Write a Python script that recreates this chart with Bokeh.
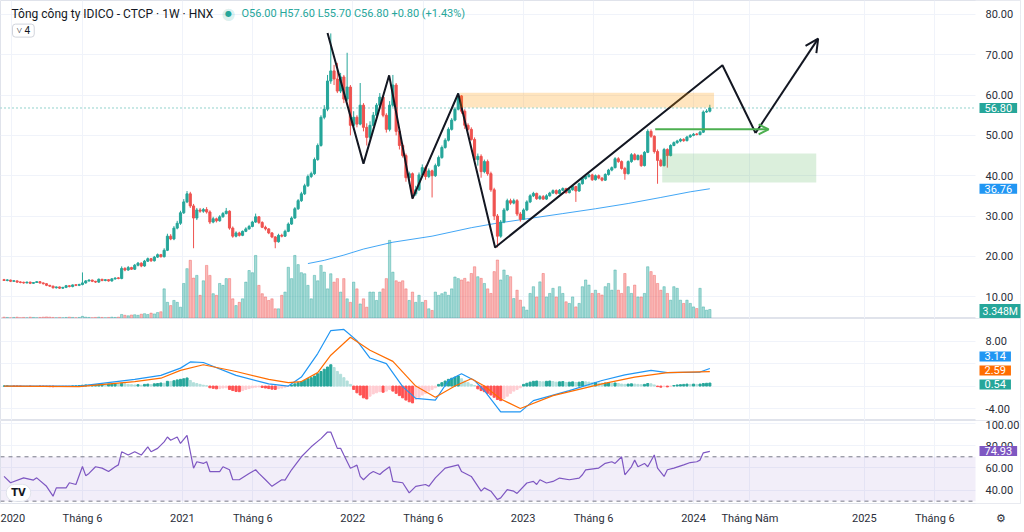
import numpy as np
import pandas as pd
from bokeh.plotting import figure
from bokeh.layouts import column
from bokeh.models import (Range1d, FixedTicker, PrintfTickFormatter, Label,
                          BoxAnnotation, Arrow, OpenHead, Grid)
from bokeh.embed import file_html
from bokeh.resources import INLINE

# ---------------- data (weekly, IDICO - HNX) ----------------
last_week = "2024-02-05"
opens = [
14.2, 14.0, 14.1, 13.8, 13.9, 13.6, 13.5, 13.4, 13.6, 13.3,
13.5, 13.7, 13.4, 13.2, 12.8, 12.6, 12.2, 12.4, 12.1, 12.3,
12.7, 12.5, 12.9, 12.8, 13.0, 13.4, 13.9, 14.1, 13.8, 13.6,
14.3, 14.0, 14.2, 13.9, 14.4, 14.6, 14.5, 17.0, 16.6, 17.2,
16.8, 17.8, 18.3, 17.6, 18.8, 19.4, 18.9, 19.8, 20.4, 19.9,
21.5, 25.0, 24.3, 27.0, 28.2, 30.8, 33.5, 35.5, 32.5, 29.5,
31.5, 31.2, 31.6, 31.0, 28.5, 29.3, 28.8, 29.8, 30.6, 31.2,
27.0, 25.0, 25.8, 25.2, 26.2, 26.8, 27.4, 28.5, 29.8, 28.4,
27.2, 26.8, 25.8, 24.8, 23.6, 25.2, 25.0, 26.2, 28.0, 29.5,
31.8, 33.8, 35.5, 37.5, 39.8, 40.5, 44.0, 47.5, 54.5, 56.5,
63.5, 66.0, 64.0, 61.0, 64.5, 59.0, 62.0, 52.5, 54.5, 52.8,
57.5, 52.0, 49.5, 52.5, 55.0, 57.5, 59.5, 55.0, 51.5, 57.5,
62.5, 51.0, 47.5, 45.0, 39.5, 40.5, 35.5, 36.5, 40.2, 42.0,
39.8, 41.2, 40.0, 42.5, 44.5, 47.0, 48.8, 51.5, 53.8, 56.5,
59.8, 56.0, 52.5, 51.5, 49.0, 44.0, 44.8, 41.0, 43.5, 40.5,
36.5, 30.0, 25.0, 28.5, 31.5, 33.8, 33.2, 33.8, 30.5, 29.2,
31.5, 33.5, 35.0, 35.6, 34.3, 34.8, 34.2, 35.0, 35.7, 36.3,
35.6, 36.4, 36.8, 35.8, 36.5, 37.3, 36.2, 38.0, 39.3, 39.8,
40.2, 39.0, 40.0, 39.4, 38.9, 40.3, 41.4, 42.0, 44.2, 43.5,
41.8, 40.5, 43.5, 45.2, 44.0, 45.0, 42.5, 45.8, 51.0, 49.8,
46.0, 43.8, 42.5, 46.5, 45.0, 47.5, 48.2, 48.6, 49.0, 48.7,
49.6, 50.0, 50.3, 50.2, 50.8, 55.8, 56.0]
highs = [
14.4, 14.3, 14.2, 14.0, 14.0, 13.8, 13.7, 13.7, 13.7, 13.6,
13.8, 13.8, 13.5, 13.3, 12.9, 12.7, 12.5, 12.5, 12.4, 12.9,
12.8, 13.0, 13.0, 13.2, 16.0, 14.1, 14.3, 14.2, 13.9, 14.5,
14.4, 14.3, 14.3, 14.6, 14.8, 14.8, 17.5, 17.3, 17.6, 17.4,
18.1, 18.6, 18.5, 19.1, 19.7, 19.6, 20.1, 20.7, 20.6, 22.0,
25.6, 25.5, 27.5, 28.8, 31.3, 34.2, 36.2, 36.0, 33.0, 32.0,
32.0, 32.0, 32.2, 31.4, 29.8, 29.6, 30.2, 31.0, 32.0, 31.4,
27.4, 26.2, 26.1, 26.4, 27.2, 27.8, 28.8, 30.6, 30.0, 28.7,
27.6, 27.0, 26.0, 25.0, 25.6, 25.6, 26.6, 28.4, 29.9, 32.2,
34.2, 36.0, 38.0, 40.3, 41.0, 44.5, 48.0, 55.0, 57.5, 65.0,
75.3, 67.5, 68.0, 65.5, 65.0, 70.5, 62.5, 56.0, 55.0, 63.0,
58.0, 53.0, 53.5, 55.8, 58.0, 60.5, 60.0, 55.5, 58.5, 65.0,
63.0, 51.5, 48.0, 45.5, 41.0, 40.8, 37.5, 40.8, 42.8, 42.5,
41.8, 41.5, 43.0, 45.0, 47.5, 49.3, 52.0, 54.3, 57.0, 60.5,
60.0, 56.5, 53.0, 52.0, 49.5, 45.5, 45.3, 44.0, 44.0, 41.0,
37.0, 30.5, 29.0, 32.0, 34.3, 34.3, 34.3, 34.2, 31.0, 31.9,
33.9, 35.4, 36.0, 35.8, 35.2, 35.2, 35.4, 36.0, 36.6, 36.6,
36.7, 37.1, 37.0, 36.8, 37.6, 37.5, 38.3, 39.6, 40.1, 40.5,
40.5, 40.3, 40.3, 39.7, 40.6, 41.7, 42.3, 44.6, 44.6, 43.8,
42.2, 43.8, 45.6, 45.6, 45.3, 45.3, 46.1, 51.5, 51.5, 50.0,
46.5, 44.2, 46.9, 46.8, 47.8, 48.5, 48.9, 49.3, 49.3, 49.9,
50.3, 50.6, 50.6, 51.1, 56.2, 56.5, 57.6]
lows = [
13.9, 13.8, 13.6, 13.7, 13.4, 13.3, 13.2, 13.3, 13.1, 13.2,
13.4, 13.2, 13.0, 12.6, 12.4, 12.0, 12.0, 11.9, 11.9, 12.1,
12.3, 12.3, 12.6, 12.6, 12.8, 13.2, 13.7, 13.6, 13.4, 13.4,
13.8, 13.8, 13.7, 13.7, 14.2, 14.3, 14.3, 16.3, 16.4, 16.6,
16.6, 17.5, 17.3, 17.4, 18.6, 18.6, 18.7, 19.6, 19.7, 19.7,
21.3, 24.0, 24.0, 26.7, 27.8, 30.5, 33.2, 32.0, 22.0, 29.0,
30.8, 30.8, 30.6, 28.0, 28.2, 28.4, 28.6, 29.6, 30.4, 26.6,
24.6, 24.7, 24.9, 25.0, 26.0, 26.6, 27.2, 28.3, 28.0, 27.0,
26.4, 25.5, 24.5, 22.0, 23.4, 24.7, 24.8, 26.0, 27.8, 29.3,
31.5, 33.5, 35.2, 37.2, 39.4, 40.2, 43.7, 47.2, 54.0, 56.0,
62.8, 62.5, 60.5, 60.5, 58.0, 58.5, 50.0, 52.0, 52.0, 52.5,
51.0, 47.5, 49.0, 52.2, 54.7, 57.0, 54.5, 50.7, 51.0, 57.0,
50.0, 46.5, 44.5, 38.5, 38.0, 34.2, 35.0, 36.2, 39.8, 39.0,
39.4, 34.6, 39.7, 42.2, 44.2, 46.7, 48.5, 51.2, 53.5, 56.2,
55.4, 51.6, 51.2, 48.7, 43.0, 42.5, 39.5, 40.6, 40.0, 36.0,
29.0, 22.2, 24.6, 28.2, 31.2, 32.8, 32.9, 30.0, 28.6, 29.0,
31.2, 33.2, 34.7, 34.0, 34.0, 34.0, 34.0, 34.8, 35.5, 35.3,
35.4, 36.2, 35.5, 35.6, 36.3, 33.5, 36.0, 37.8, 39.0, 39.5,
38.7, 38.8, 39.1, 38.6, 38.7, 40.0, 41.1, 41.8, 43.2, 41.5,
39.0, 40.3, 43.2, 43.8, 43.8, 42.2, 42.3, 45.6, 49.4, 45.5,
38.0, 42.2, 42.3, 42.0, 44.8, 47.3, 47.9, 48.3, 48.4, 48.5,
49.4, 49.8, 50.0, 50.0, 50.6, 55.6, 55.7]
closes = [
14.0, 14.1, 13.8, 13.9, 13.6, 13.5, 13.4, 13.6, 13.3, 13.5,
13.7, 13.4, 13.2, 12.8, 12.6, 12.2, 12.4, 12.1, 12.3, 12.7,
12.5, 12.9, 12.8, 13.0, 13.4, 13.9, 14.1, 13.8, 13.6, 14.3,
14.0, 14.2, 13.9, 14.4, 14.6, 14.5, 17.0, 16.6, 17.2, 16.8,
17.8, 18.3, 17.6, 18.8, 19.4, 18.9, 19.8, 20.4, 19.9, 21.5,
25.0, 24.3, 27.0, 28.2, 30.8, 33.5, 35.5, 32.5, 29.5, 31.5,
31.2, 31.6, 31.0, 28.5, 29.3, 28.8, 29.8, 30.6, 31.2, 27.0,
25.0, 25.8, 25.2, 26.2, 26.8, 27.4, 28.5, 29.8, 28.4, 27.2,
26.8, 25.8, 24.8, 23.6, 25.2, 25.0, 26.2, 28.0, 29.5, 31.8,
33.8, 35.5, 37.5, 39.8, 40.5, 44.0, 47.5, 54.5, 56.5, 63.5,
66.0, 64.0, 61.0, 64.5, 59.0, 62.0, 52.5, 54.5, 52.8, 57.5,
52.0, 49.5, 52.5, 55.0, 57.5, 59.5, 55.0, 51.5, 57.5, 62.5,
51.0, 47.5, 45.0, 39.5, 40.5, 35.5, 36.5, 40.2, 42.0, 39.8,
41.2, 40.0, 42.5, 44.5, 47.0, 48.8, 51.5, 53.8, 56.5, 59.8,
56.0, 52.5, 51.5, 49.0, 44.0, 44.8, 41.0, 43.5, 40.5, 36.5,
30.0, 25.0, 28.5, 31.5, 33.8, 33.2, 33.8, 30.5, 29.2, 31.5,
33.5, 35.0, 35.6, 34.3, 34.8, 34.2, 35.0, 35.7, 36.3, 35.6,
36.4, 36.8, 35.8, 36.5, 37.3, 36.2, 38.0, 39.3, 39.8, 40.2,
39.0, 40.0, 39.4, 38.9, 40.3, 41.4, 42.0, 44.2, 43.5, 41.8,
40.5, 43.5, 45.2, 44.0, 45.0, 42.5, 45.8, 51.0, 49.8, 46.0,
43.8, 42.5, 46.5, 45.0, 47.5, 48.2, 48.6, 49.0, 48.7, 49.6,
50.0, 50.3, 50.2, 50.8, 55.8, 56.0, 56.8]
volumes_m = [
0.5, 0.4, 0.3, 0.4, 0.5, 0.3, 0.4, 0.3, 0.5, 0.4,
0.3, 0.4, 0.5, 0.6, 0.5, 0.4, 0.3, 0.4, 0.3, 0.4,
0.5, 0.4, 0.3, 0.4, 0.8, 0.5, 0.4, 0.3, 0.4, 0.5,
0.4, 0.3, 0.4, 0.5, 0.4, 0.5, 1.5, 1.2, 1.0, 1.3,
1.4, 1.2, 1.6, 1.8, 1.5, 2.0, 1.7, 2.2, 2.5, 11.0,
6.0, 4.8, 6.7, 6.0, 4.2, 13.0, 18.5, 21.6, 15.0, 16.0,
8.6, 14.0, 19.7, 16.0, 9.2, 8.6, 13.0, 12.3, 14.8, 14.8,
7.3, 4.8, 6.0, 7.3, 13.5, 17.8, 17.0, 23.4, 12.3, 9.2,
8.0, 6.7, 7.3, 3.6, 3.6, 8.6, 9.8, 19.0, 14.8, 23.4,
20.0, 17.0, 16.6, 12.3, 7.3, 16.0, 14.0, 19.7, 17.2, 11.0,
16.6, 13.5, 14.8, 9.8, 14.8, 7.3, 6.0, 13.5, 11.0, 5.4,
7.3, 4.2, 9.8, 9.8, 6.7, 9.8, 11.0, 14.8, 29.0, 17.2,
14.0, 13.5, 14.0, 11.0, 6.7, 9.8, 6.0, 8.6, 6.0, 6.7,
3.6, 3.0, 9.8, 8.6, 9.2, 9.8, 8.6, 11.0, 15.4, 14.8,
14.3, 14.9, 13.6, 16.7, 19.2, 15.5, 14.9, 13.0, 11.0, 9.3,
17.4, 21.7, 14.3, 18.0, 16.0, 15.5, 7.4, 10.5, 6.8, 4.3,
3.1, 9.3, 11.8, 8.0, 13.6, 16.7, 8.0, 9.3, 11.2, 8.0,
11.8, 9.3, 6.2, 5.6, 8.0, 4.3, 5.6, 11.8, 14.3, 12.4,
9.3, 10.5, 9.3, 8.7, 11.8, 13.0, 10.5, 18.0, 10.5, 9.3,
16.7, 11.8, 9.3, 12.4, 8.0, 8.0, 9.3, 19.2, 17.4, 16.0,
13.0, 10.5, 11.8, 9.3, 6.8, 11.8, 11.2, 6.8, 5.6, 6.8,
5.6, 4.3, 3.7, 11.2, 4.3, 3.1, 3.348]
macd_hist = [
0.0, 0.02, 0.0, -0.02, -0.03, -0.05, -0.05, -0.04, -0.05, -0.03,
-0.02, -0.04, -0.06, -0.08, -0.1, -0.12, -0.1, -0.08, -0.06, -0.04,
-0.02, 0.0, 0.02,
0.1, 0.15, 0.2, 0.18, 0.22, 0.25, 0.3, 0.32, 0.3, 0.35, 0.38, 0.4, 0.35, 0.5, 0.42, 0.3,
0.25, 0.2, 0.25, 0.15, 0.3, 0.35, 0.25, 0.4, 0.45,
0.55, 0.5, 0.85, 0.8, 0.95, 1.1, 1.2, 1.3, 1.45, 1.0,
0.6, 0.45, 0.3, 0.15, 0.05,
-0.3, -0.4, -0.5, -0.45, -0.35, -0.3, -0.6, -0.8, -0.95, -1.0,
-0.8, -0.6, -0.45, -0.3, -0.2, -0.15,
-0.25, -0.35, -0.45, -0.55, -0.6,
-0.45, -0.35, -0.2, -0.05,
0.2, 0.4, 0.6, 0.8, 1.0, 1.3, 1.5, 1.8, 2.2, 2.6, 3.0, 3.4, 3.8,
3.3, 2.6, 2.1, 1.5, 0.9, 0.3,
-0.6, -1.2, -1.6, -2.1, -2.3,
-1.8, -1.4, -1.2, -1.0, -1.1, -0.9, -0.6,
-0.9, -1.3, -1.7, -2.1, -2.5, -2.8, -3.0,
-2.4, -2.0, -1.6, -1.3, -0.9, -0.6, -0.3,
0.3, 0.6, 0.9, 1.2, 1.4, 1.6, 1.8,
1.3, 0.9, 0.6, 0.3, 0.1,
-0.5, -0.8, -1.0, -1.3, -1.6, -2.0, -2.4, -2.6,
-2.2, -1.8, -1.3, -0.9, -0.6, -0.3,
0.3, 0.5, 0.7, 0.85, 0.9, 0.8, 0.75, 0.85, 0.9, 0.8, 0.7, 0.75, 0.8, 0.65,
0.7, 0.75, 0.65, 0.7, 0.8, 0.75, 0.7, 0.6, 0.65, 0.55, 0.5,
0.55, 0.6, 0.5, 0.55, 0.45, 0.35, 0.3, 0.35, 0.4, 0.35, 0.3, 0.25, 0.3, 0.45, 0.4, 0.2,
-0.1, -0.2, -0.1, -0.15, -0.05, 0.1,
0.2, 0.25, 0.3, 0.35, 0.3, 0.35, 0.3, 0.35, 0.45, 0.5, 0.54]

# MA line (week index -> value)
ma_idx = [93, 98, 104, 110, 119, 131, 143, 150, 160, 171, 181, 191, 201, 210, 216]
ma_vals = [18.2, 19.0, 20.3, 21.8, 23.5, 25.0, 27.1, 28.1, 29.3, 30.6, 31.8, 33.1, 34.6, 36.0, 36.76]

# MACD line and signal (week index -> value)
macd_idx = [0, 23, 40, 48, 54, 57, 61, 71, 81, 87, 91, 96, 100, 104, 108, 112, 117, 122, 126, 132,
            136, 140, 144, 147, 152, 158, 162, 173, 183, 190, 198, 203, 213, 216]
macd_vals = [0.0, 0.0, 1.2, 1.9, 3.2, 4.3, 4.2, 1.9, 0.4, 0.0, 1.6, 5.8, 9.9, 10.1, 8.1, 5.0, 4.0, -0.1, -2.2, -2.5,
             1.0, 2.2, 1.0, -0.8, -4.6, -4.6, -2.6, -0.8, 1.0, 2.0, 2.8, 2.4, 2.5, 3.14]
sig_idx = [0, 23, 40, 48, 54, 61, 71, 81, 87, 91, 96, 100, 106, 112, 119, 126, 132, 138, 143, 147,
           152, 158, 168, 183, 193, 203, 216]
sig_vals = [0.0, -0.1, 0.8, 1.4, 2.8, 3.8, 2.6, 1.2, 0.6, 0.8, 2.4, 5.5, 8.7, 6.4, 4.4, 0.0, -2.0, 0.0, 1.3, 0.0,
            -2.3, -4.0, -1.7, 0.4, 1.6, 2.4, 2.59]

# RSI (week index -> value)
rsi_idx = [0, 2, 6, 9, 10, 13, 15, 16, 19, 20, 22, 24, 25, 26, 28, 30, 32, 34, 35, 36,
           38, 40, 42, 44, 45, 47, 49, 50, 51, 53, 54, 56, 58, 59, 61, 62, 63, 66, 67, 69,
           70, 72, 75, 77, 78, 80, 82, 85, 86, 88, 91, 94, 97, 99, 100, 102, 103, 104, 106, 107,
           108, 109, 110, 112, 113, 115, 116, 118, 119, 122, 124, 126, 129, 130, 132, 135, 139, 140, 143, 146,
           147, 149, 151, 152, 154, 156, 157, 160, 162, 163, 164, 166, 168, 170, 173, 176, 177, 178, 182, 184,
           186, 187, 189, 190, 192, 193, 194, 196, 197, 199, 200, 202, 203, 205, 208, 210, 212, 213, 214, 216]
rsi_vals = [52.3, 46.6, 51, 49, 51, 43.4, 34.5, 42, 42, 46.6, 45, 61.2, 53, 55, 61, 59.8, 56.7, 61, 62.7, 74.5,
            71.6, 74.5, 71.6, 79, 74.5, 77.6, 83.4, 87.8, 84.9, 87.8, 82, 89.3, 59.7, 65.5, 64, 65.5, 56.7, 56.7, 61, 58.3,
            49.3, 49.3, 55, 58.3, 55, 49.3, 43.4, 49.3, 49, 58.3, 70, 79, 86.4, 92.3, 92.3, 77.6, 77.6, 71.6, 59.7, 61,
            62.5, 52.3, 49.3, 55, 56.7, 54, 56.7, 61, 47.8, 46.6, 37.5, 43.4, 45, 43.4, 51, 59.8, 62.7, 56.7, 52.3, 39,
            42, 39, 31.5, 33, 40.4, 39, 37, 46.4, 47.8, 45, 49.3, 46.4, 47.8, 50.8, 49.3, 50.8, 53.8, 58.2, 59.8, 64.1,
            65.5, 64, 70, 53.8, 61, 67, 61, 64, 61, 71.6, 59.8, 52.3, 58.3, 59.8, 62.7, 64.8, 65.5, 67, 73.6, 74.93]

# drawings on the chart
zz_dates = ["2021-11-08", "2022-01-24", "2022-03-20", "2022-05-09", "2022-08-15",
            "2022-11-02", "2024-03-03", "2024-05-13", "2024-09-24"]
zz_prices = [75.4, 43.0, 64.9, 34.3, 60.4, 22.2, 67.4, 50.6, 74.0]
supply_zone = (("2022-08-19", "2024-02-14"), (56.9, 60.6))
demand_zone = (("2023-10-26", "2024-09-20"), (38.3, 45.5))
support_line = (("2023-10-11", "2024-06-10"), 51.5)

tick_dates = ["2020-01-01", "2020-06-01", "2021-01-01", "2021-06-01", "2022-01-01", "2022-06-01",
              "2023-01-01", "2023-06-01", "2024-01-01", "2024-05-01", "2025-01-01", "2025-06-01"]
tick_labels = ["2020", "Tháng 6", "2021", "Tháng 6", "2022", "Tháng 6",
               "2023", "Tháng 6", "2024", "Tháng Năm", "2025", "Tháng 6"]

# ---------------- helpers ----------------
BASE = pd.Timestamp("2020-01-01")
def d(s):
    return float((pd.Timestamp(s) - BASE).days)

dates = pd.date_range(end=last_week, periods=len(closes), freq="7D")
xs = np.array([(t - BASE).days for t in dates], dtype=float)

FONT = "Roboto"
UP, DN = "#26a69a", "#ef5350"
GRID = "#f0f3fa"
FW = 1020                      # frame incl. the price-scale column
PX = 365.25 / 170.5            # days per pixel
X0 = -11 * PX
XD = X0 + 975 * PX             # right edge of the data area
X1 = X0 + FW * PX
xr = Range1d(X0, X1)
xt = [d(s) for s in tick_dates]

def make_fig(fh, yr, yticks, ygrid_ticks, xaxis=False, bottom=0):
    p = figure(frame_width=FW, frame_height=fh, x_range=xr, y_range=Range1d(*yr),
               x_axis_location="below" if xaxis else None, y_axis_location="right",
               output_backend="svg", toolbar_location=None,
               min_border_left=0, min_border_top=0, min_border_bottom=bottom, min_border_right=4)
    p.outline_line_color = "#e0e3eb"
    p.background_fill_color = "white"
    p.border_fill_color = "white"
    for g in p.xgrid:
        g.visible = False
    p.add_layout(Grid(dimension=0, ticker=FixedTicker(ticks=xt), grid_line_color=GRID))
    p.ygrid.ticker = FixedTicker(ticks=ygrid_ticks)
    p.ygrid.grid_line_color = GRID
    # blank price-scale column (covers the grid there)
    p.add_layout(BoxAnnotation(left=XD, fill_color="white", fill_alpha=1.0,
                               line_color=None, level="underlay"))
    ax = p.yaxis[0]
    ax.ticker = FixedTicker(ticks=yticks)
    ax.formatter = PrintfTickFormatter(format="%.2f")
    ax.axis_line_color = None
    ax.major_tick_line_color = None
    ax.minor_tick_line_color = None
    ax.major_tick_out = 0
    ax.major_tick_in = 0
    ax.major_label_text_font = FONT
    ax.major_label_text_font_size = "11px"
    ax.major_label_text_color = "#2a2e39"
    ax.major_label_standoff = -35
    return p

def tag(p, y, text, color, pad=(5, 1), size="11px"):
    p.add_layout(Label(x=XD + 4 * PX, y=y, text=text, text_color="white",
                       background_fill_color=color, text_font=FONT, text_font_size=size,
                       text_align="left", text_baseline="middle", padding=pad))

# ---------------- main pane ----------------
p1 = make_fig(318, (4.57, 83.47), [10, 20, 30, 40, 50, 60, 70, 80], [10, 20, 30, 40, 50, 60, 70, 80])
p1.extra_y_ranges = {"vol": Range1d(0, 118)}

o = np.array(opens); h = np.array(highs); l = np.array(lows); c = np.array(closes)
up = c >= o
col = np.where(up, UP, DN)
p1.vbar(x=xs, top=volumes_m, bottom=0, width=5.0, color=col, alpha=0.4, y_range_name="vol")

p1.add_layout(BoxAnnotation(left=d(supply_zone[0][0]), right=d(supply_zone[0][1]),
                            bottom=supply_zone[1][0], top=supply_zone[1][1],
                            fill_color="#ff9800", fill_alpha=0.25, line_color=None))
p1.add_layout(BoxAnnotation(left=d(demand_zone[0][0]), right=d(demand_zone[0][1]),
                            bottom=demand_zone[1][0], top=demand_zone[1][1],
                            fill_color="#4caf50", fill_alpha=0.2, line_color=None))

p1.line([xs[i] for i in ma_idx], ma_vals, line_color="#2196f3", line_width=1, alpha=0.85)

p1.segment(x0=xs, y0=l, x1=xs, y1=h, color=col, line_width=1)
body_top = np.maximum(o, c)
body_bot = np.minimum(o, c)
body_top = np.where(body_top - body_bot < 0.15, body_bot + 0.15, body_top)
p1.vbar(x=xs, top=body_top, bottom=body_bot, width=4.5, fill_color=col, line_color=col)

p1.segment(x0=[X0], y0=[closes[-1]], x1=[XD], y1=[closes[-1]], line_color=UP,
           line_dash="1 3", line_width=1)

zx = [d(s) for s in zz_dates]
p1.line(zx[:-1], zz_prices[:-1], line_color="#131722", line_width=2)
p1.add_layout(Arrow(end=OpenHead(size=13, line_width=2, line_color="#131722"),
                    x_start=zx[-2], y_start=zz_prices[-2], x_end=zx[-1], y_end=zz_prices[-1],
                    line_color="#131722", line_width=2))
p1.add_layout(Arrow(end=OpenHead(size=10, line_width=2, line_color="#4caf50"),
                    x_start=d(support_line[0][0]), y_start=support_line[1],
                    x_end=d(support_line[0][1]), y_end=support_line[1],
                    line_color="#4caf50", line_width=2))

# header
p1.add_layout(Label(x=X0 + 11 * PX, y=80.24, text="Tông công ty IDICO - CTCP · 1W · HNX",
                    text_font=FONT, text_font_size="12px", text_color="#131722",
                    text_baseline="middle"))
p1.add_layout(Label(x=X0 + 228 * PX, y=80.24, text="●", text_font="DejaVu Sans",
                    text_font_size="16px", text_color=UP, text_alpha=0.18,
                    text_align="center", text_baseline="middle"))
p1.add_layout(Label(x=X0 + 228 * PX, y=80.24, text="●", text_font="DejaVu Sans",
                    text_font_size="8px", text_color=UP,
                    text_align="center", text_baseline="middle"))
p1.add_layout(Label(x=X0 + 241 * PX, y=80.24, text="O56.00 H57.60 L55.70 C56.80 +0.80 (+1.43%)",
                    text_font=FONT, text_font_size="11px", text_color=UP,
                    text_baseline="middle"))
p1.add_layout(Label(x=X0 + 12 * PX, y=76.0, text="˅ 4", text_font=FONT,
                    text_font_size="10px", text_color="#131722", text_baseline="middle",
                    border_line_color="#d1d4dc", border_radius=3, padding=(4, 1),
                    background_fill_color="white"))

tag(p1, closes[-1], "56.80", UP)
tag(p1, ma_vals[-1], "36.76", "#2196f3")
tag(p1, 6.3, "3.348M", UP, pad=(3, 1), size="10.5px")

# ---------------- MACD pane ----------------
p2 = make_fig(102, (-6.14, 12.05), [-4, 8], [-4, 0, 4, 8])
hc = []
prev = 0.0
for v in macd_hist:
    if v >= 0:
        hc.append("#26a69a" if v >= prev else "#b2dfdb")
    else:
        hc.append("#ff5252" if v < prev else "#ffcdd2")
    prev = v
p2.vbar(x=xs, top=macd_hist, bottom=0, width=4.5, fill_color=hc, line_color=hc)
p2.line([xs[i] for i in macd_idx], macd_vals, line_color="#2196f3", line_width=1.2)
p2.line([xs[i] for i in sig_idx], sig_vals, line_color="#ff6d00", line_width=1.2)
tag(p2, 5.28, "3.14", "#2196f3")
tag(p2, 2.78, "2.59", "#ff6d00")
tag(p2, 0.29, "0.54", UP)

# ---------------- RSI pane ----------------
p3 = make_fig(83, (27.9, 102.7), [40, 60, 80, 100], [40, 60, 80, 100], xaxis=True, bottom=4)
p3.add_layout(BoxAnnotation(left=X0, right=XD, bottom=30, top=70, fill_color="#7e57c2",
                            fill_alpha=0.1, line_color=None))
p3.segment(x0=[X0, X0], y0=[70, 30], x1=[XD, XD], y1=[70, 30], line_color="#787b86",
           line_dash="4 4", line_width=1)
p3.line([xs[i] for i in rsi_idx], rsi_vals, line_color="#7e57c2", line_width=1.2)
tag(p3, 75.3, "74.93", "#7e57c2")
# TradingView logo badge
p3.add_layout(Label(x=X0 + 18 * PX, y=37.5, text="TV", text_font="DejaVu Sans",
                    text_font_style="bold", text_font_size="10px", text_color="#131722",
                    text_align="center", text_baseline="middle", background_fill_color="white",
                    border_line_color="#e0e3eb", border_radius=10, padding=(5, 3)))

gear_x = X0 + 1000 * PX
xa = p3.xaxis[0]
xa.ticker = FixedTicker(ticks=xt + [gear_x])
overrides = {v: t for v, t in zip(xt, tick_labels)}
overrides[gear_x] = "⚙"
xa.major_label_overrides = overrides
xa.axis_line_color = None
xa.major_tick_line_color = None
xa.minor_tick_line_color = None
xa.major_tick_out = 0
xa.major_tick_in = 0
xa.major_label_standoff = 8
xa.major_label_text_font = FONT
xa.major_label_text_font_size = "11px"
xa.major_label_text_color = "#2a2e39"

layout = column(p1, p2, p3, spacing=0)
open("out.html", "w").write(file_html(layout, INLINE))
